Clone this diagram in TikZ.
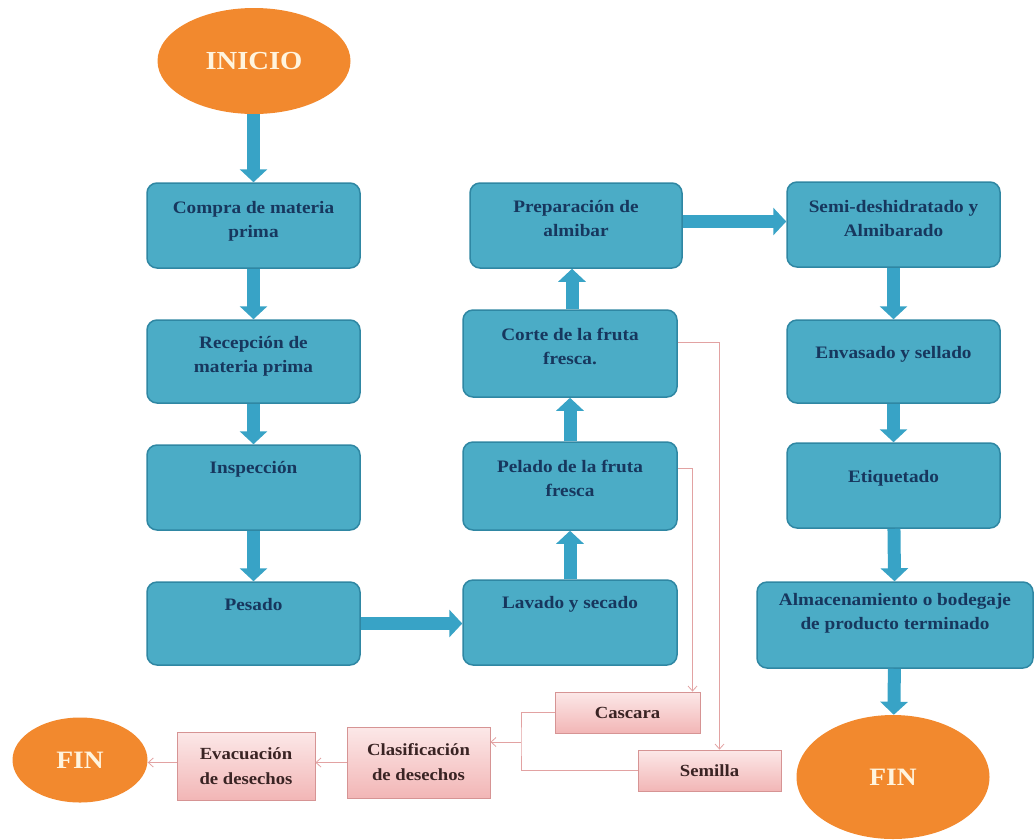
\documentclass[tikz,border=0pt]{standalone}
\usepackage{fontspec}
\setmainfont{Liberation Serif}
\newfontfamily\cajafont[FakeStretch=1.1]{Liberation Serif}
\usetikzlibrary{positioning,shapes.geometric,arrows.meta}

\definecolor{azul}{HTML}{4BACC6}
\definecolor{bordeazul}{HTML}{2F87A3}
\definecolor{azulflecha}{HTML}{38A3C6}
\definecolor{textoazul}{HTML}{17375E}
\definecolor{naranja}{HTML}{F2892E}
\definecolor{crema}{HTML}{FFF4DE}
\definecolor{rosaclaro}{HTML}{FCE8E8}
\definecolor{rosa}{HTML}{F2B6B6}
\definecolor{bordrosa}{HTML}{D69494}
\definecolor{textorosa}{HTML}{3A2424}
\definecolor{lineafina}{HTML}{E2A2A2}

\tikzset{
  caja/.style={draw=bordeazul, line width=1.5pt, fill=azul, rounded corners=10pt,
    minimum width=213pt, minimum height=85pt, inner sep=0pt},
  txt/.style={text=textoazul, font=\cajafont\bfseries\fontsize{17.5}{24}\selectfont,
    align=center, inner sep=0pt},
  desecho/.style={draw=bordrosa, line width=0.8pt, top color=rosaclaro, bottom color=rosa,
    minimum width=143pt, inner sep=0pt, text=textorosa, align=center,
    font=\cajafont\bfseries\fontsize{17}{25}\selectfont},
  ovalo/.style={ellipse, fill=naranja, text=crema, inner sep=0pt,
    font=\cajafont\bfseries\fontsize{26}{30}\selectfont},
  flecha/.style={draw=azulflecha, line width=13pt, -{Triangle[width=27pt,length=13pt]}},
  fino/.style={draw=lineafina, line width=0.8pt, -{Straight Barb[length=5pt,width=9pt]}},
}

\begin{document}
\begin{tikzpicture}[x=1pt, y=-1pt]
    \clip (0,0) rectangle (1035,839);
    % inicio y fin
    \node[ovalo, minimum width=193pt, minimum height=106pt] (inicio) at (254,61) {INICIO};
    \node[ovalo, minimum width=193pt, minimum height=124pt,
      font=\cajafont\bfseries\fontsize{25}{30}\selectfont] (finB) at (893,777) {FIN};
    \node[ovalo, minimum width=135pt, minimum height=85pt,
      font=\cajafont\bfseries\fontsize{25}{30}\selectfont] (finA) at (80,760) {FIN};

    % primera columna
    \node[caja] (compra) at (253.5,225.5) {};
    \node[caja, minimum height=83pt] (recep) at (253.5,361.5) {};
    \node[caja] (insp) at (253.5,487.5) {};
    \node[caja, minimum height=83pt] (pesado) at (253.5,623.5) {};
    \node[txt, below=19pt of compra.north] (compra-t) {Compra de materia\\prima};
    \node[txt, below=17pt of recep.north] (recep-t) {Recepción de\\materia prima};
    \node[txt, below=17pt of insp.north] (insp-t) {Inspección};
    \node[txt, below=17pt of pesado.north] (pesado-t) {Pesado};

    % segunda columna
    \node[caja, minimum width=214pt] (lavado) at (570,622.5) {};
    \node[caja, minimum width=214pt, minimum height=88pt] (pelado) at (570,486) {};
    \node[caja, minimum width=214pt, minimum height=87pt] (corte) at (570,353.5) {};
    \node[caja, minimum width=212pt] (prep) at (576,225.5) {};
    \node[txt, below=17pt of lavado.north] (lavado-t) {Lavado y secado};
    \node[txt, below=19pt of pelado.north] (pelado-t) {Pelado de la fruta\\fresca};
    \node[txt, below=19pt of corte.north] (corte-t) {Corte de la fruta\\fresca.};
    \node[txt, below=18pt of prep.north] (prep-t) {Preparación de\\almibar};

    % tercera columna
    \node[caja] (semi) at (893.5,224.5) {};
    \node[caja, minimum height=83pt] (envas) at (893.5,361.5) {};
    \node[caja] (etiq) at (893.5,485.5) {};
    \node[caja, minimum width=276pt, minimum height=86pt] (almac) at (895,625) {};
    \node[txt, below=19pt of semi.north] (semi-t) {Semi-deshidratado y\\Almibarado};
    \node[txt, below=27pt of envas.north] (envas-t) {Envasado y sellado};
    \node[txt, below=28pt of etiq.north] (etiq-t) {Etiquetado};
    \node[txt, below=12pt of almac.north] (almac-t) {Almacenamiento o bodegaje\\de producto terminado};

    % desechos
    \node[desecho, minimum width=145pt, minimum height=41pt] (cascara) at (627.5,712.5) {Cascara};
    \node[desecho, minimum height=41pt] (semilla) at (709.5,770.5) {Semilla};
    \node[desecho, minimum height=71pt] (clasif) at (418.5,762.5) {Clasificación\\de desechos};
    \node[desecho, minimum width=138pt, minimum height=68pt] (evac) at (246,766) {Evacuación\\de desechos};
    \coordinate (junta) at (521,742);

    % flechas gruesas
    \draw[flecha] (inicio.south -| compra.north) -- (compra.north);
    \foreach \a/\b in {compra/recep, recep/insp, insp/pesado, lavado/pelado, pelado/corte,
                       semi/envas, envas/etiq, etiq/almac, almac/finB}
        \draw[flecha] (\a) -- (\b);
    \draw[flecha] (pesado.east) -- (pesado.east -| lavado.west);
    \draw[flecha] ([xshift=2pt]corte.north) -- ([xshift=2pt]corte.north |- prep.south);
    \draw[flecha] ([yshift=4pt]prep.east) -- ([yshift=4pt]prep.east -| semi.west);

    % lineas finas
    \draw[fino] ([yshift=18pt]pelado.east) -| ([xshift=65pt]cascara.north);
    \draw[fino] ([yshift=11pt]corte.east) -| ([xshift=10pt]semilla.north);
    \draw[draw=lineafina, line width=0.8pt] (cascara.west) -| (junta) |- (semilla.west);
    \draw[fino] (junta) -- (junta -| clasif.east);
    \draw[fino] (clasif.west) -- (clasif.west -| evac.east);
    \draw[fino] (evac.west |- clasif.west) -- (finA.east |- clasif.west);
\end{tikzpicture}
\end{document}
